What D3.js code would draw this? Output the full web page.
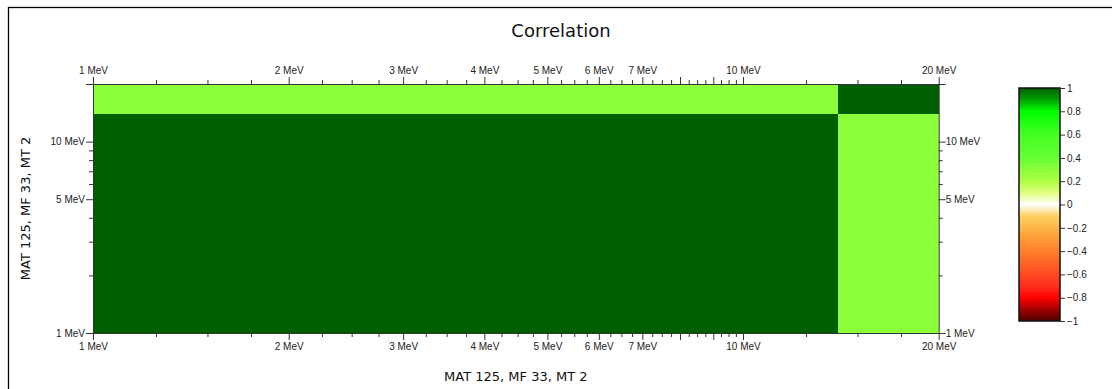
<!DOCTYPE html>
<html>
<head>
<meta charset="utf-8">
<script src="https://cdn.jsdelivr.net/npm/d3@7"></script>
<style>
    body { margin: 0; background: #fff; }
    svg { display: block; font-family: "DejaVu Sans", sans-serif; }
    .axis path, .axis line { stroke: #333; }
    .axis text { fill: #222; font-size: 10px; }
</style>
</head>
<body>
<div id="chart"></div>
<script>
(function () {
    "use strict";

    // energy group boundaries (MeV), same on both axes
    const groupEdges = [1, 14, 20];
    // correlation matrix, rows = y groups (bottom to top), columns = x groups
    const corrRow0 = [1, 0.3];
    const corrRow1 = [0.3, 1];
    const corrRows = [corrRow0, corrRow1];

    const xMajorTicks = [1, 2, 3, 4, 5, 6, 7, 8, 9, 10, 20];
    const xLabelTicks = [1, 2, 3, 4, 5, 6, 7, 10, 20];
    const yMajorTicks = [1, 5, 10, 20];
    const yLabelTicks = [1, 5, 10];
    const yMinorTicks = [2, 3, 4, 6, 7, 8, 9];

    const colorTicks = [-1, -0.8, -0.6, -0.4, -0.2, 0, 0.2, 0.4, 0.6, 0.8, 1];
    const colorStopValues = [-1, -0.8, -0.7, -0.5, -0.3, -0.1, 0, 0.1, 0.2, 0.4, 0.6, 0.8, 0.9, 1];
    const colorStopColors = ["#4a0000", "#ff0000", "#ff2e1e", "#ff6426", "#ff9a33", "#ffd060", "#ffffff",
        "#e0ff80", "#b0ff44", "#66ff33", "#44ff22", "#00ff00", "#00a000", "#005f00"];

    const width = 1112;
    const height = 389;
    const plot = { left: 93, right: 938.7, top: 84, bottom: 333 };

    const svg = d3.select("#chart").append("svg")
        .attr("width", width)
        .attr("height", height);

    // outer frame
    svg.append("rect")
        .attr("x", 8.5)
        .attr("y", 7.5)
        .attr("width", 1200)
        .attr("height", 600)
        .attr("fill", "none")
        .attr("stroke", "#000")
        .attr("stroke-width", 1.3);

    svg.append("text")
        .attr("x", 561)
        .attr("y", 37)
        .attr("text-anchor", "middle")
        .attr("font-size", 18)
        .attr("fill", "#111")
        .text("Correlation");

    const xScale = d3.scaleLog()
        .domain([1, 20])
        .range([plot.left, plot.right]);

    const yScale = d3.scaleLog()
        .domain([1, 20])
        .range([plot.bottom, plot.top]);

    const colorScale = d3.scaleLinear()
        .domain(colorStopValues)
        .range(colorStopColors);

    // heatmap cells
    const cells = [];
    corrRows.forEach((row, j) => {
        row.forEach((value, i) => {
            cells.push({ x0: groupEdges[i], x1: groupEdges[i + 1], y0: groupEdges[j], y1: groupEdges[j + 1], value: value });
        });
    });

    svg.append("g")
        .selectAll("rect")
        .data(cells)
        .join("rect")
        .attr("x", d => xScale(d.x0))
        .attr("y", d => yScale(d.y1))
        .attr("width", d => xScale(d.x1) - xScale(d.x0))
        .attr("height", d => yScale(d.y0) - yScale(d.y1))
        .attr("fill", d => colorScale(d.value))
        .attr("shape-rendering", "crispEdges");

    // minor ticks sit at quarter steps between majors
    const xMinorTicks = d3.pairs(xMajorTicks)
        .flatMap(([a, b]) => [1, 2, 3].map(k => a + (b - a) * k / 4));

    const fmt = d => d + " MeV";
    const xFmt = d => xLabelTicks.includes(d) ? fmt(d) : "";
    const yFmt = d => yLabelTicks.includes(d) ? fmt(d) : "";

    function drawAxis(axisMaker, scale, majors, minors, formatter, transform) {
        svg.append("g")
            .attr("class", "axis")
            .attr("transform", transform)
            .call(axisMaker(scale).tickValues(minors).tickSize(4).tickFormat(""))
            .select(".domain").remove();
        return svg.append("g")
            .attr("class", "axis")
            .attr("transform", transform)
            .call(axisMaker(scale).tickValues(majors).tickSize(7).tickSizeOuter(0).tickFormat(formatter));
    }

    drawAxis(d3.axisTop, xScale, xMajorTicks, xMinorTicks, xFmt, `translate(0,${plot.top})`);
    drawAxis(d3.axisBottom, xScale, xMajorTicks, xMinorTicks, xFmt, `translate(0,${plot.bottom})`);
    const leftAxis = drawAxis(d3.axisLeft, yScale, yMajorTicks, yMinorTicks, yFmt, `translate(${plot.left},0)`);
    const rightAxis = drawAxis(d3.axisRight, yScale, yMajorTicks, yMinorTicks, yFmt, `translate(${plot.right},0)`);
    leftAxis.selectAll("text").attr("dx", "2");
    rightAxis.selectAll("text").attr("dx", "-3");

    // axis titles
    svg.append("text")
        .attr("x", (plot.left + plot.right) / 2)
        .attr("y", 381)
        .attr("text-anchor", "middle")
        .attr("font-size", 13)
        .attr("fill", "#111")
        .text("MAT 125, MF 33, MT 2");

    svg.append("text")
        .attr("transform", `translate(30,${(plot.top + plot.bottom) / 2}) rotate(-90)`)
        .attr("text-anchor", "middle")
        .attr("font-size", 13)
        .attr("fill", "#111")
        .text("MAT 125, MF 33, MT 2");

    // colour bar
    const bar = { x: 1019, width: 41, top: 88, bottom: 321 };
    const barScale = d3.scaleLinear()
        .domain([-1, 1])
        .range([bar.bottom, bar.top]);

    const gradient = svg.append("defs").append("linearGradient")
        .attr("id", "corr-gradient")
        .attr("x1", 0).attr("x2", 0)
        .attr("y1", 1).attr("y2", 0);

    gradient.selectAll("stop")
        .data(colorStopValues)
        .join("stop")
        .attr("offset", d => (d + 1) / 2)
        .attr("stop-color", d => colorScale(d));

    svg.append("rect")
        .attr("x", bar.x)
        .attr("y", bar.top)
        .attr("width", bar.width)
        .attr("height", bar.bottom - bar.top)
        .attr("fill", "url(#corr-gradient)")
        .attr("stroke", "#111")
        .attr("stroke-width", 1.5);

    const barAxis = svg.append("g")
        .attr("class", "axis")
        .attr("transform", `translate(${bar.x + bar.width},0)`)
        .call(d3.axisRight(barScale).tickValues(colorTicks).tickSize(5).tickFormat(d3.format("")));
    barAxis.select(".domain").remove();
    barAxis.selectAll("text").attr("font-size", 11).attr("dx", "-1");
}());
</script>
</body>
</html>
